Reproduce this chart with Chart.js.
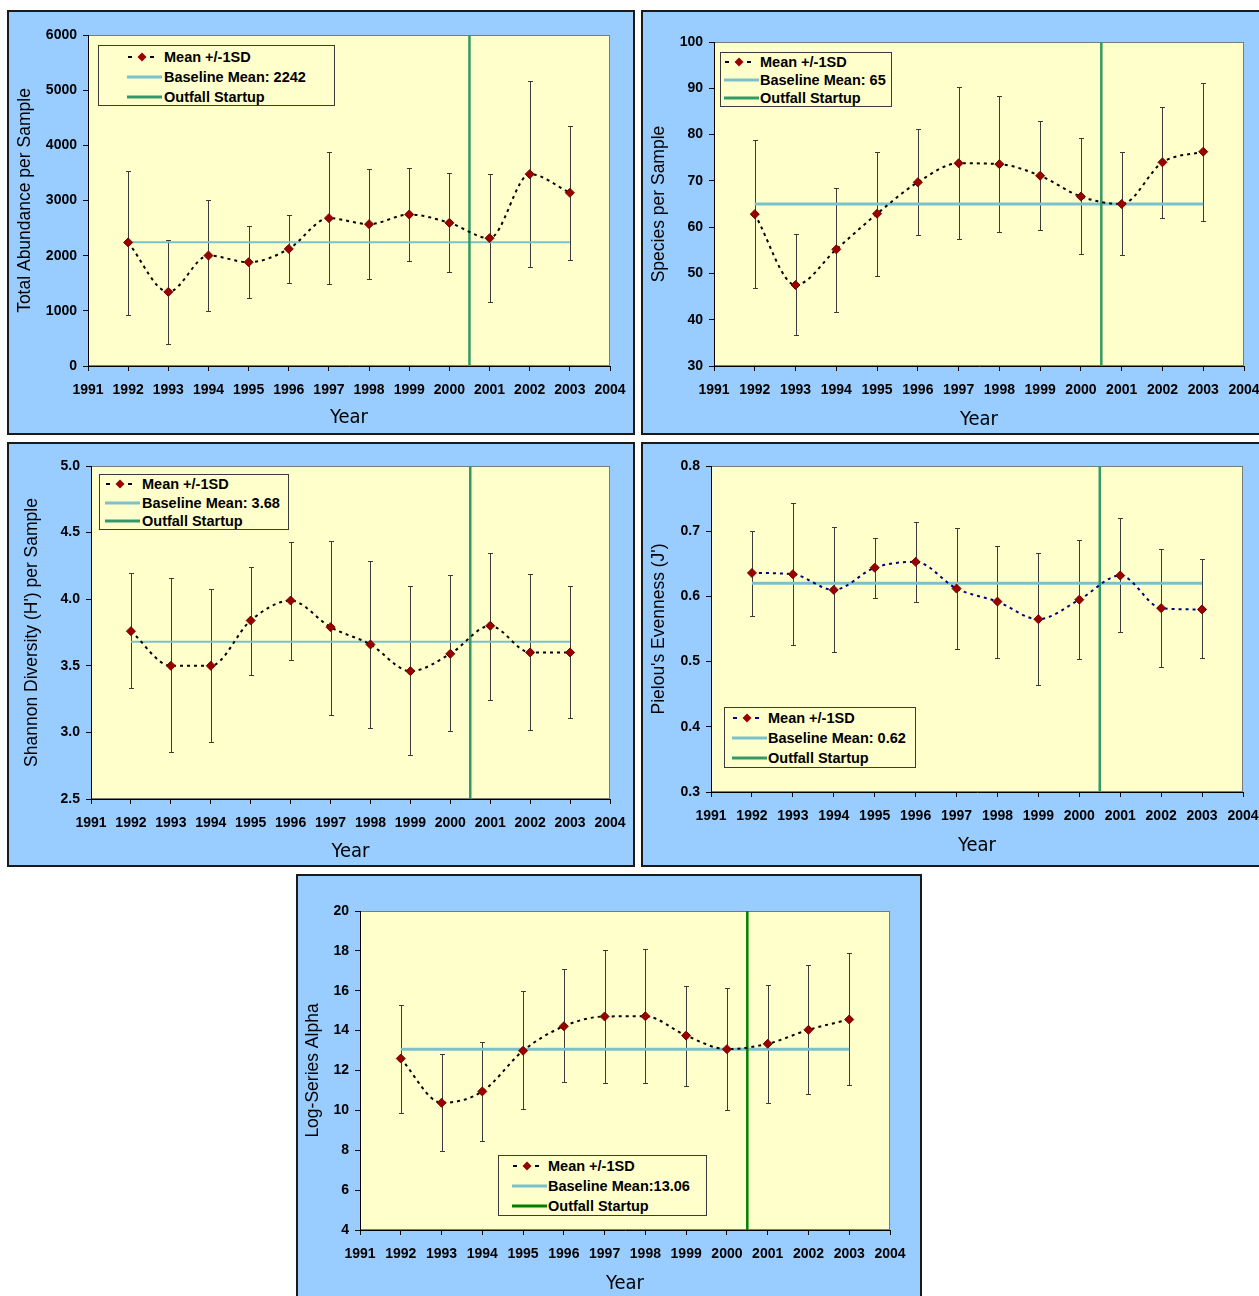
<!DOCTYPE html>
<html>
  <head>
    <meta charset="utf-8">
    <title>Benthic community summary 1992-2003</title>
    <script src="https://cdn.jsdelivr.net/npm/chart.js@4.4.1/dist/chart.umd.min.js"></script>
    <style>
      html, body { margin: 0; padding: 0; background: #fff; overflow: hidden; }
      body { position: relative; width: 1259px; height: 1296px; }
      .panel { position: absolute; box-sizing: border-box; border: 2px solid #1a1a1a; background: #99ccff; }
      .panel canvas { position: absolute; left: 0; top: 0; }
      .legend { position: absolute; box-sizing: border-box; border: 1px solid #3a3a3a; background: #ffffcc;
        font: bold 14.5px 'Liberation Sans', Arial, sans-serif; color: #000; }
      .legend svg, .legend span { position: absolute; }
      .legend span { line-height: 18px; white-space: nowrap; }
    </style>
  </head>
  <body>
    <script>
      // Data
      const years = [1992, 1993, 1994, 1995, 1996, 1997, 1998, 1999, 2000, 2001, 2002, 2003]
      const outfallYear = 2000.5

      const abundanceMean = [2240, 1343, 2002, 1881, 2123, 2680, 2571, 2746, 2595, 2317, 3478, 3140]
      const abundanceLow  = [931, 405, 992, 1234, 1512, 1482, 1585, 1912, 1700, 1155, 1791, 1924]
      const abundanceHigh = [3539, 2287, 3013, 2529, 2741, 3884, 3575, 3587, 3503, 3485, 5172, 4356]
      const abundanceBaseline = 2242
      const abundanceAxis = [0, 6000, 1000]

      const speciesMean = [62.8, 47.5, 55.2, 62.9, 69.7, 73.8, 73.6, 71.1, 66.6, 65.0, 74.0, 76.3]
      const speciesLow  = [46.8, 36.6, 41.7, 49.5, 58.3, 57.5, 59.0, 59.3, 54.2, 53.9, 61.9, 61.4]
      const speciesHigh = [78.9, 58.6, 68.5, 76.3, 81.2, 90.3, 88.4, 83.0, 79.2, 76.3, 86.0, 91.1]
      const speciesBaseline = 65
      const speciesAxis = [30, 100, 10]

      const shannonMean = [3.76, 3.50, 3.50, 3.84, 3.99, 3.79, 3.66, 3.46, 3.59, 3.80, 3.60, 3.60]
      const shannonLow  = [3.33, 2.85, 2.93, 3.43, 3.54, 3.13, 3.03, 2.83, 3.01, 3.24, 3.02, 3.11]
      const shannonHigh = [4.20, 4.16, 4.08, 4.24, 4.43, 4.44, 4.29, 4.10, 4.18, 4.35, 4.19, 4.10]
      const shannonBaseline = 3.68
      const shannonAxis = [2.5, 5.0, 0.5]

      const pielouMean = [0.636, 0.634, 0.610, 0.644, 0.653, 0.612, 0.592, 0.565, 0.595, 0.632, 0.582, 0.580]
      const pielouLow  = [0.570, 0.525, 0.514, 0.598, 0.592, 0.520, 0.505, 0.464, 0.504, 0.545, 0.492, 0.506]
      const pielouHigh = [0.701, 0.743, 0.706, 0.690, 0.714, 0.705, 0.678, 0.666, 0.687, 0.720, 0.672, 0.657]
      const pielouBaseline = 0.62
      const pielouAxis = [0.3, 0.8, 0.1]

      const alphaMean = [12.60, 10.38, 10.95, 12.99, 14.22, 14.71, 14.72, 13.75, 13.07, 13.34, 14.04, 14.56]
      const alphaLow  = [9.88, 7.96, 8.48, 10.05, 11.40, 11.38, 11.37, 11.23, 10.01, 10.38, 10.80, 11.27]
      const alphaHigh = [15.31, 12.85, 13.42, 15.97, 17.08, 18.06, 18.10, 16.26, 16.13, 16.29, 17.28, 17.88]
      const alphaBaseline = 13.06
      const alphaAxis = [4, 20, 2]

      const FONT = "'Liberation Sans', Arial, sans-serif"
      const NARROW = "'Liberation Sans Narrow', 'Arial Narrow', 'DejaVu Sans Condensed', 'Liberation Sans', sans-serif"

      // yellow plot area with a grey frame
      const plotFrame = {
        id: 'plotFrame',
        beforeDraw(chart) {
          const a = chart.chartArea
          const ctx = chart.ctx
          ctx.save()
          ctx.fillStyle = '#ffffcc'
          ctx.fillRect(a.left, a.top, a.right - a.left, a.bottom - a.top)
          ctx.strokeStyle = '#7a7a7a'
          ctx.lineWidth = 1
          ctx.strokeRect(a.left + 0.5, a.top + 0.5, a.right - a.left - 1, a.bottom - a.top - 1)
          ctx.restore()
        }
      }

      // +/-1SD whiskers, drawn under the lines
      const errorBars = {
        id: 'errorBars',
        beforeDatasetsDraw(chart) {
          const ctx = chart.ctx
          const x = chart.scales.x
          const y = chart.scales.y
          ctx.save()
          ctx.strokeStyle = '#3a3a3a'
          ctx.lineWidth = 1
          chart.data.datasets.forEach(ds => {
            if (!ds.errLow) return
            ds.data.forEach((pt, i) => {
              const px = Math.round(x.getPixelForValue(pt.x)) + 0.5
              const lo = Math.round(y.getPixelForValue(ds.errLow[i])) + 0.5
              const hi = Math.round(y.getPixelForValue(ds.errHigh[i])) + 0.5
              ctx.beginPath()
              ctx.moveTo(px, lo); ctx.lineTo(px, hi)
              ctx.moveTo(px - 2.5, lo); ctx.lineTo(px + 2.5, lo)
              ctx.moveTo(px - 2.5, hi); ctx.lineTo(px + 2.5, hi)
              ctx.stroke()
            })
          })
          ctx.restore()
        }
      }

      function makePanel(p) {
        const div = document.createElement('div')
        div.className = 'panel'
        div.style.left = p.box[0] + 'px'
        div.style.top = p.box[1] + 'px'
        div.style.width = p.box[2] + 'px'
        div.style.height = p.box[3] + 'px'
        const canvas = document.createElement('canvas')
        const cw = p.box[2] - 4
        const ch = p.box[3] - 4
        canvas.width = cw
        canvas.height = ch
        canvas.style.width = cw + 'px'
        canvas.style.height = ch + 'px'
        div.appendChild(canvas)
        document.body.appendChild(div)

        const innerL = p.box[0] + 2
        const innerT = p.box[1] + 2
        const yWidth = p.plot[0] - innerL
        const padTop = p.plot[1] - innerT
        const padRight = innerL + cw - p.plot[2]
        const xHeight = innerT + ch - p.plot[3]

        const chart = new Chart(canvas, {
          type: 'line',
          data: {
            datasets: [
              {
                label: 'Mean +/-1SD',
                data: years.map((yr, i) => ({ x: yr, y: p.mean[i] })),
                errLow: p.low,
                errHigh: p.high,
                borderColor: p.lineColor,
                borderWidth: 2,
                borderDash: [3, 4],
                cubicInterpolationMode: 'monotone',
                pointStyle: 'rectRot',
                pointRadius: 4.5,
                pointBackgroundColor: '#990000',
                pointBorderColor: '#7a0000',
                pointBorderWidth: 1,
                order: 1
              },
              {
                label: p.baseLabel,
                data: [{ x: years[0], y: p.base }, { x: years[years.length - 1], y: p.base }],
                borderColor: '#7bc1cb',
                borderWidth: p.baseWidth,
                pointRadius: 0,
                order: 3
              },
              {
                label: 'Outfall Startup',
                data: [{ x: outfallYear, y: p.axis[0] }, { x: outfallYear, y: p.axis[1] }],
                borderColor: p.outfallColor,
                borderWidth: 2.5,
                pointRadius: 0,
                order: 2
              }
            ]
          },
          options: {
            responsive: false,
            animation: false,
            events: [],
            layout: { padding: { top: padTop, right: padRight, left: 0, bottom: 0 } },
            plugins: { legend: { display: false }, tooltip: { enabled: false } },
            scales: {
              x: {
                type: 'linear',
                min: 1991,
                max: 2004,
                ticks: {
                  stepSize: 1, autoSkip: false, maxRotation: 0, padding: 11, color: '#000',
                  font: { family: FONT, size: 14, weight: 'bold' },
                  callback: v => String(v)
                },
                grid: { drawOnChartArea: false, drawTicks: true, tickLength: 5, color: '#000' },
                border: { display: true, color: '#000', width: 1 },
                title: {
                  display: true, text: 'Year', color: '#000',
                  font: { family: NARROW, size: 20 },
                  padding: { top: 0, bottom: p.xTitlePad }
                },
                afterFit: s => {
                  s.height = xHeight
                  s.paddingLeft = 0
                  s.paddingRight = 0
                }
              },
              y: {
                type: 'linear',
                min: p.axis[0],
                max: p.axis[1],
                ticks: {
                  stepSize: p.axis[2], padding: 6, color: '#000',
                  font: { family: FONT, size: 14, weight: 'bold' },
                  callback: v => v.toFixed(p.decimals)
                },
                grid: { drawOnChartArea: false, drawTicks: true, tickLength: 5, color: '#000' },
                border: { display: true, color: '#000', width: 1 },
                title: {
                  display: true, text: p.yTitle, color: '#000',
                  font: { family: FONT, size: 17.5 },
                  padding: { top: p.yTitlePad, bottom: 0 }
                },
                afterFit: s => {
                  s.width = yWidth
                  s.paddingTop = 0
                  s.paddingBottom = 0
                }
              }
            }
          },
          plugins: [plotFrame, errorBars]
        })

        makeLegend(chart, p.legend)
        return chart
      }

      function makeLegend(chart, lg) {
        const box = document.createElement('div')
        box.className = 'legend'
        box.style.left = lg.rect[0] + 'px'
        box.style.top = lg.rect[1] + 'px'
        box.style.width = (lg.rect[2] - lg.rect[0]) + 'px'
        box.style.height = (lg.rect[3] - lg.rect[1]) + 'px'
        let html = ''
        chart.data.datasets.forEach((ds, i) => {
          const cy = lg.rows[i] - lg.rect[1] - 1
          const sx = lg.sample - lg.rect[0] - 1
          const tx = lg.text - lg.rect[0] - 1
          let svg
          if (ds.errLow) {
            svg = '<line x1="1" y1="6" x2="5" y2="6" stroke="' + ds.borderColor + '" stroke-width="2"/>' +
              '<line x1="23" y1="6" x2="27" y2="6" stroke="' + ds.borderColor + '" stroke-width="2"/>' +
              '<polygon points="15,1.5 19.5,6 15,10.5 10.5,6" fill="#990000"/>'
          } else {
            svg = '<line x1="0" y1="6" x2="35" y2="6" stroke="' + ds.borderColor + '" stroke-width="3"/>'
          }
          html += '<svg width="35" height="12" style="left:' + sx + 'px;top:' + (cy - 6) + 'px">' + svg + '</svg>'
          html += '<span style="left:' + tx + 'px;top:' + (cy - 9) + 'px">' + ds.label + '</span>'
        })
        box.innerHTML = html
        document.body.appendChild(box)
      }

      makePanel({
        box: [7, 10, 628, 425], plot: [88, 35, 610, 366],
        mean: abundanceMean, low: abundanceLow, high: abundanceHigh, base: abundanceBaseline,
        axis: abundanceAxis, decimals: 0,
        baseLabel: 'Baseline Mean: 2242', baseWidth: 2, lineColor: '#000', outfallColor: '#339966',
        yTitle: 'Total Abundance per Sample', yTitlePad: 6, xTitlePad: 3,
        legend: { rect: [98, 45, 335, 106], rows: [57, 77, 97], sample: 127, text: 164 }
      })

      makePanel({
        box: [641, 10, 632, 425], plot: [714, 42, 1244, 366],
        mean: speciesMean, low: speciesLow, high: speciesHigh, base: speciesBaseline,
        axis: speciesAxis, decimals: 0,
        baseLabel: 'Baseline Mean: 65', baseWidth: 3, lineColor: '#000', outfallColor: '#339966',
        yTitle: 'Species per Sample', yTitlePad: 5.5, xTitlePad: 1,
        legend: { rect: [720, 52, 892, 107], rows: [61.7, 80, 98.3], sample: 724, text: 760 }
      })

      makePanel({
        box: [7, 442, 628, 425], plot: [91, 466, 610, 799],
        mean: shannonMean, low: shannonLow, high: shannonHigh, base: shannonBaseline,
        axis: shannonAxis, decimals: 1,
        baseLabel: 'Baseline Mean: 3.68', baseWidth: 2, lineColor: '#000', outfallColor: '#339966',
        yTitle: "Shannon Diversity (H') per Sample", yTitlePad: 13, xTitlePad: 1,
        legend: { rect: [99, 474, 289, 530], rows: [484.3, 503.3, 521.3], sample: 105, text: 142 }
      })

      makePanel({
        box: [641, 442, 632, 425], plot: [711, 466, 1243, 792],
        mean: pielouMean, low: pielouLow, high: pielouHigh, base: pielouBaseline,
        axis: pielouAxis, decimals: 1,
        baseLabel: 'Baseline Mean: 0.62', baseWidth: 3, lineColor: '#000080', outfallColor: '#339966',
        yTitle: "Pielou's Evenness (J')", yTitlePad: 5.5, xTitlePad: 7,
        legend: { rect: [724, 707, 916, 768], rows: [717.7, 737.7, 757.7], sample: 732, text: 768 }
      })

      makePanel({
        box: [296, 874, 626, 432], plot: [360, 911, 890, 1230],
        mean: alphaMean, low: alphaLow, high: alphaHigh, base: alphaBaseline,
        axis: alphaAxis, decimals: 0,
        baseLabel: 'Baseline Mean:13.06', baseWidth: 3, lineColor: '#000', outfallColor: '#008000',
        yTitle: 'Log-Series Alpha', yTitlePad: 4.5, xTitlePad: 8,
        legend: { rect: [498, 1155, 707, 1216], rows: [1165.7, 1185.7, 1205.7], sample: 512, text: 548 }
      })
    </script>
  </body>
</html>
